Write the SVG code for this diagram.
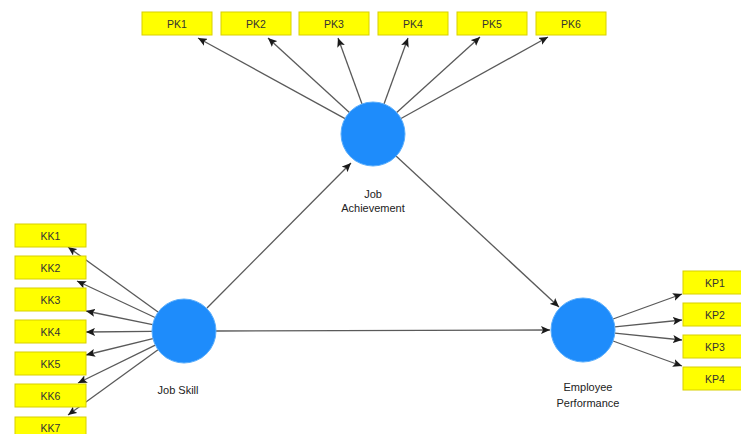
<svg xmlns="http://www.w3.org/2000/svg" width="741" height="434" viewBox="0 0 741 434">
<defs>
<marker id="ah" markerWidth="10" markerHeight="8" refX="9" refY="4" orient="auto" markerUnits="userSpaceOnUse">
<path d="M0,0 L9,4 L0,8 L2,4 Z" fill="#1a1a1a"/>
</marker>
<style>
.box rect{fill:#ffff00;stroke:#d8d000;stroke-width:1}
.box text{font-family:"Liberation Sans",Arial,sans-serif;font-size:10.5px;fill:#333;text-anchor:middle}
.lv circle{fill:#1e8cfb;stroke:#5aaefc;stroke-width:1}
.lv text{font-family:"Liberation Sans",Arial,sans-serif;font-size:11px;fill:#222;text-anchor:middle}
.conn line{stroke:#5a5a5a;stroke-width:1.3;marker-end:url(#ah)}
</style>
</defs>
<rect width="741" height="434" fill="#fff"/>
<g class="conn" id="connectors">
<line x1="345" y1="118.6" x2="198" y2="38"/>
<line x1="349.4" y1="112.4" x2="268" y2="38"/>
<line x1="362" y1="104" x2="338" y2="38"/>
<line x1="384" y1="104" x2="408" y2="38"/>
<line x1="396.7" y1="112.5" x2="480" y2="37"/>
<line x1="401" y1="118.5" x2="548" y2="37"/>
<line x1="158" y1="312" x2="68" y2="247"/>
<line x1="155" y1="317.5" x2="77" y2="281"/>
<line x1="152.6" y1="324.6" x2="86" y2="311"/>
<line x1="152" y1="331.3" x2="86" y2="332"/>
<line x1="152.9" y1="338.6" x2="86" y2="355"/>
<line x1="155.3" y1="345.1" x2="78" y2="383"/>
<line x1="158" y1="349.8" x2="68" y2="415"/>
<line x1="207" y1="308" x2="351" y2="163"/>
<line x1="216" y1="331" x2="550" y2="330"/>
<line x1="396" y1="156" x2="559" y2="307"/>
<line x1="613" y1="319" x2="682" y2="294"/>
<line x1="614.8" y1="326.8" x2="682" y2="320"/>
<line x1="614.8" y1="333.2" x2="682" y2="340"/>
<line x1="613" y1="341" x2="682" y2="366"/>
</g>
<g id="PK1" class="box"><rect x="142" y="12" width="70" height="23"/><text x="177" y="27.5">PK1</text></g>
<g id="PK2" class="box"><rect x="221" y="12" width="70" height="23"/><text x="256" y="27.5">PK2</text></g>
<g id="PK3" class="box"><rect x="299" y="12" width="70" height="23"/><text x="334" y="27.5">PK3</text></g>
<g id="PK4" class="box"><rect x="378" y="12" width="70" height="23"/><text x="413" y="27.5">PK4</text></g>
<g id="PK5" class="box"><rect x="457" y="12" width="70" height="23"/><text x="492" y="27.5">PK5</text></g>
<g id="PK6" class="box"><rect x="536" y="12" width="70" height="23"/><text x="571" y="27.5">PK6</text></g>
<g id="KK1" class="box"><rect x="15" y="224" width="71" height="23"/><text x="50.5" y="239.5">KK1</text></g>
<g id="KK2" class="box"><rect x="15" y="256" width="71" height="23"/><text x="50.5" y="271.5">KK2</text></g>
<g id="KK3" class="box"><rect x="15" y="288" width="71" height="23"/><text x="50.5" y="303.5">KK3</text></g>
<g id="KK4" class="box"><rect x="15" y="320" width="71" height="23"/><text x="50.5" y="335.5">KK4</text></g>
<g id="KK5" class="box"><rect x="15" y="352" width="71" height="23"/><text x="50.5" y="367.5">KK5</text></g>
<g id="KK6" class="box"><rect x="15" y="384" width="71" height="23"/><text x="50.5" y="399.5">KK6</text></g>
<g id="KK7" class="box"><rect x="15" y="417" width="71" height="23"/><text x="50.5" y="432">KK7</text></g>
<g id="KP1" class="box"><rect x="683" y="271" width="60" height="23"/><text x="715" y="286.5">KP1</text></g>
<g id="KP2" class="box"><rect x="683" y="303" width="60" height="23"/><text x="715" y="318.5">KP2</text></g>
<g id="KP3" class="box"><rect x="683" y="335" width="60" height="23"/><text x="715" y="350.5">KP3</text></g>
<g id="KP4" class="box"><rect x="683" y="367" width="60" height="23"/><text x="715" y="382.5">KP4</text></g>
<g id="JobAchievement" class="lv"><circle cx="373" cy="134" r="32"/><text x="373" y="198">Job</text><text x="373" y="212">Achievement</text></g>
<g id="JobSkill" class="lv"><circle cx="184" cy="331" r="32"/><text x="178" y="394">Job Skill</text></g>
<g id="EmployeePerformance" class="lv"><circle cx="583" cy="330" r="32"/><text x="588" y="391">Employee</text><text x="588" y="407">Performance</text></g>
</svg>
